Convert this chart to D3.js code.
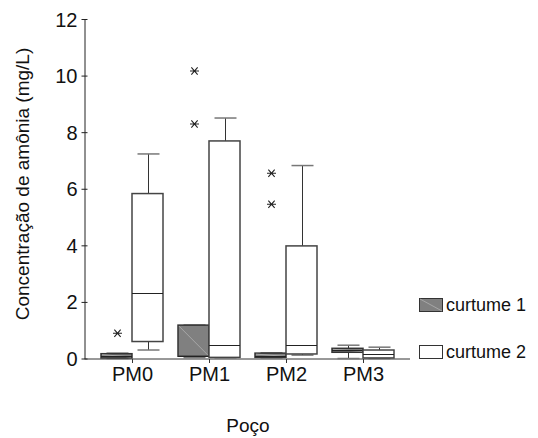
<!DOCTYPE html>
<html>
<head>
<meta charset="utf-8">
<title>Concentração de amônia</title>
<script src="https://d3js.org/d3.v7.min.js"></script>
<style>
  body { margin: 0; background: #fff; }
  text { font-family: "Liberation Sans", Arial, sans-serif; fill: #111; }
</style>
</head>
<body>
<script>
	// dados
	var pocos = ["PM0", "PM1", "PM2", "PM3"];
	var series = ["curtume 1", "curtume 2"];
	var yTicks = [0, 2, 4, 6, 8, 10, 12];

	// [whisker baixo, q1, mediana, q3, whisker alto]
	var curtume1 = [
		[0.0, 0.02, 0.10, 0.17, 0.19],
		[0.03, 0.08, 0.10, 1.18, 1.18],
		[0.02, 0.04, 0.10, 0.19, 0.20],
		[0.0, 0.22, 0.29, 0.36, 0.47]
	];
	var curtume2 = [
		[0.30, 0.60, 2.31, 5.83, 7.23],
		[0.02, 0.04, 0.48, 7.69, 8.50],
		[0.12, 0.16, 0.48, 3.98, 6.82],
		[0.0, 0.02, 0.16, 0.30, 0.40]
	];
	// outliers (asteriscos)
	var outliers1 = [[0.89], [8.29, 10.16], [5.45, 6.55], []];
	var outliers2 = [[], [], [], []];

	var W = 538, H = 438;
	var svg = d3.select("body").append("svg")
		.attr("width", W).attr("height", H);

	var x = d3.scaleBand().domain(pocos).range([85, 410]).paddingInner(0).paddingOuter(0.11);
	var sub = d3.scaleBand().domain(series).range([-31, 31]);
	var y = d3.scaleLinear().domain([0, 12]).range([358.5, 19]);

	// eixo y
	var yAxis = d3.axisLeft(y).tickValues(yTicks).tickSize(0).tickPadding(7);
	var gy = svg.append("g").attr("transform", "translate(84.5,0)").call(yAxis);
	gy.select(".domain").attr("stroke", "#222");
	gy.selectAll(".tick text").style("font-size", "20px").style("font-family", "Liberation Sans").attr("dy", "0.35em");
	gy.selectAll(".tick").append("line").attr("x1", -3).attr("x2", 3).attr("stroke", "#222");

	// eixo x
	svg.append("line").attr("x1", 84.5).attr("x2", 410).attr("y1", 359).attr("y2", 359).attr("stroke", "#333");
	var gx = svg.append("g");
	pocos.forEach(function (p) {
		var cx = Math.round(x(p) + x.bandwidth() / 2) + 0.5;
		gx.append("line").attr("x1", cx).attr("x2", cx).attr("y1", 359).attr("y2", 363).attr("stroke", "#333");
		gx.append("text").attr("x", cx).attr("y", 381).attr("text-anchor", "middle")
			.style("font-size", "20px").text(p);
	});

	function asterisco(g, cx, cy) {
		var r = 4.5;
		g.append("path")
			.attr("d", "M" + (cx - r) + "," + cy + "H" + (cx + r) +
				"M" + (cx - r * 0.7) + "," + (cy - r * 0.8) + "L" + (cx + r * 0.7) + "," + (cy + r * 0.8) +
				"M" + (cx - r * 0.7) + "," + (cy + r * 0.8) + "L" + (cx + r * 0.7) + "," + (cy - r * 0.8))
			.attr("stroke", "#222").attr("stroke-width", 1.1).attr("fill", "none");
	}

	function desenhaCaixas(dados, outs, serie, fill, stroke) {
		var g = svg.append("g");
		pocos.forEach(function (p, i) {
			var d = dados[i];
			var x0 = Math.round(x(p) + x.bandwidth() / 2 + sub(serie));
			var bw = Math.round(sub.bandwidth());
			var cx = x0 + Math.round(bw / 2) + 0.5;
			// whiskers
			g.append("line").attr("x1", cx).attr("x2", cx).attr("y1", y(d[3])).attr("y2", y(d[4])).attr("stroke", "#333");
			g.append("line").attr("x1", cx).attr("x2", cx).attr("y1", y(d[1])).attr("y2", y(d[0])).attr("stroke", "#333");
			g.append("line").attr("x1", cx - 11).attr("x2", cx + 11).attr("y1", y(d[4])).attr("y2", y(d[4])).attr("stroke", "#777").attr("stroke-width", 1.5);
			g.append("line").attr("x1", cx - 11).attr("x2", cx + 11).attr("y1", y(d[0])).attr("y2", y(d[0])).attr("stroke", "#777").attr("stroke-width", 1.5);
			// caixa
			g.append("rect").attr("x", x0).attr("width", bw)
				.attr("y", y(d[3])).attr("height", Math.max(1, y(d[1]) - y(d[3])))
				.attr("fill", fill).attr("stroke", stroke).attr("stroke-width", 1.5);
			if (serie === series[0]) {
				g.append("line").attr("x1", x0 + 1).attr("y1", y(d[3]) + 1)
					.attr("x2", x0 + bw - 1).attr("y2", y(d[1]) - 1)
					.attr("stroke", "#b0b0b0").attr("stroke-width", 0.8);
			}
			var ym = Math.round(y(d[2])) + 0.5;
			g.append("line").attr("x1", x0).attr("x2", x0 + bw).attr("y1", ym).attr("y2", ym).attr("stroke", "#222");
			outs[i].forEach(function (v) { asterisco(g, cx, y(v)); });
		});
	}

	desenhaCaixas(curtume1, outliers1, series[0], "#808080", "#333");
	desenhaCaixas(curtume2, outliers2, series[1], "#fff", "#444");

	// legenda
	var leg = svg.append("g");
	var legY = [298, 345];
	series.forEach(function (s, i) {
		leg.append("rect").attr("x", 419.5).attr("y", legY[i] + 0.5).attr("width", 23).attr("height", 13)
			.attr("fill", i === 0 ? "#808080" : "#fff").attr("stroke", "#333");
		if (i === 0) {
			leg.append("line").attr("x1", 420).attr("y1", legY[i] + 1).attr("x2", 442).attr("y2", legY[i] + 13)
				.attr("stroke", "#b0b0b0").attr("stroke-width", 0.8);
		}
		leg.append("text").attr("x", 446).attr("y", legY[i] + 13).style("font-size", "18px").text(s);
	});

	// titulos
	svg.append("text").attr("x", 248).attr("y", 432).attr("text-anchor", "middle")
		.style("font-size", "19px").text("Poço");
	svg.append("text").attr("transform", "translate(29,184) rotate(-90)").attr("text-anchor", "middle")
		.style("font-size", "19px").text("Concentração de amônia (mg/L)");
</script>
</body>
</html>
